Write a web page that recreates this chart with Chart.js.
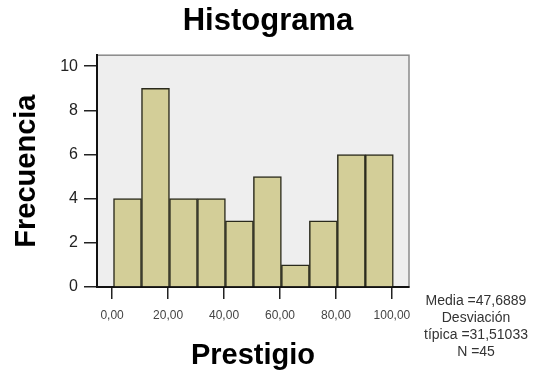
<!DOCTYPE html>
<html>
<head>
<meta charset="utf-8">
<script src="https://cdn.jsdelivr.net/npm/chart.js@4"></script>
<style>
  html, body { margin: 0; padding: 0; background: #fff; }
  canvas { display: block; }
</style>
</head>
<body>
<canvas id="histo" width="536" height="377"></canvas>
<script>
// bin centres (Prestigio) and counts
const binCenters = [5.5, 15.5, 25.5, 35.5, 45.5, 55.5, 65.5, 75.5, 85.5, 95.5]
const counts = [4, 9, 4, 4, 3, 5, 1, 3, 6, 6]
const statsLines = ["Media =47,6889", "Desviación", "típica =31,51033", "N =45"]

Chart.defaults.font.family = "'Liberation Sans', Arial, sans-serif"
Chart.defaults.color = '#222'

// grey panel + frame behind the bars
const panel = {
  id: 'panel',
  beforeDraw(chart) {
    const { ctx, chartArea: a } = chart
    ctx.save()
    ctx.fillStyle = '#eeeeee'
    ctx.fillRect(a.left, a.top, a.right - a.left, a.bottom - a.top)
    ctx.strokeStyle = '#8a8a8a'
    ctx.lineWidth = 1.5
    ctx.strokeRect(a.left, a.top, a.right - a.left, a.bottom - a.top)
    ctx.restore()
  }
}

// the statistics note to the right of the axis
const stats = {
  id: 'stats',
  afterDraw(chart) {
    const ctx = chart.ctx
    ctx.save()
    ctx.font = "14px 'Liberation Sans', Arial, sans-serif"
    ctx.fillStyle = '#333'
    ctx.textAlign = 'center'
    ctx.textBaseline = 'middle'
    statsLines.forEach((line, i) => {
      ctx.fillText(line, 476, 301 + i * 17)
    })
    ctx.restore()
  }
}

new Chart(document.getElementById('histo'), {
  type: 'bar',
  data: {
    datasets: [{
      data: binCenters.map((x, i) => ({ x: x, y: counts[i] })),
      backgroundColor: '#d3ce98',
      borderColor: '#2a2a1c',
      borderWidth: 1.5,
      barPercentage: 1,
      categoryPercentage: 1
    }]
  },
  options: {
    responsive: false,
    animation: false,
    layout: { padding: 0 },
    plugins: {
      legend: { display: false },
      tooltip: { enabled: false },
      title: {
        display: true,
        text: 'Histograma',
        color: '#000',
        font: { size: 31, weight: 'bold' },
        padding: { top: 3, bottom: 15 }
      }
    },
    scales: {
      x: {
        type: 'linear',
        min: -5.4,
        max: 106.1,
        offset: false,
        afterFit(scale) { scale.height = 90 },
        ticks: {
          stepSize: 20,
          includeBounds: false,
          padding: 9,
          maxRotation: 0,
          font: { size: 12 },
          color: '#444',
          callback: v => v.toFixed(2).replace('.', ',')
        },
        grid: {
          offset: false,
          drawOnChartArea: false,
          tickLength: 12,
          color: '#222',
          lineWidth: 1.5
        },
        border: { display: true, color: '#111', width: 2 },
        title: {
          display: true,
          text: 'Prestigio',
          color: '#000',
          font: { size: 29, weight: 'bold' },
          padding: { top: 2 }
        }
      },
      y: {
        min: 0,
        max: 10.5,
        afterFit(scale) { scale.width = 97 },
        ticks: {
          stepSize: 2,
          includeBounds: false,
          padding: 6,
          font: { size: 16 },
          color: '#222'
        },
        grid: {
          drawOnChartArea: false,
          tickLength: 13,
          color: '#222',
          lineWidth: 1.5
        },
        border: { display: true, color: '#111', width: 2 },
        title: {
          display: true,
          text: 'Frecuencia',
          color: '#000',
          font: { size: 29, weight: 'bold' },
          padding: { top: 10 }
        }
      },
      // empty right-hand box that leaves room for the statistics note
      y2: {
        axis: 'y',
        position: 'right',
        afterFit(scale) { scale.width = 127 },
        ticks: { display: false },
        grid: { display: false },
        border: { display: false }
      }
    }
  },
  plugins: [panel, stats]
})
</script>
</body>
</html>
